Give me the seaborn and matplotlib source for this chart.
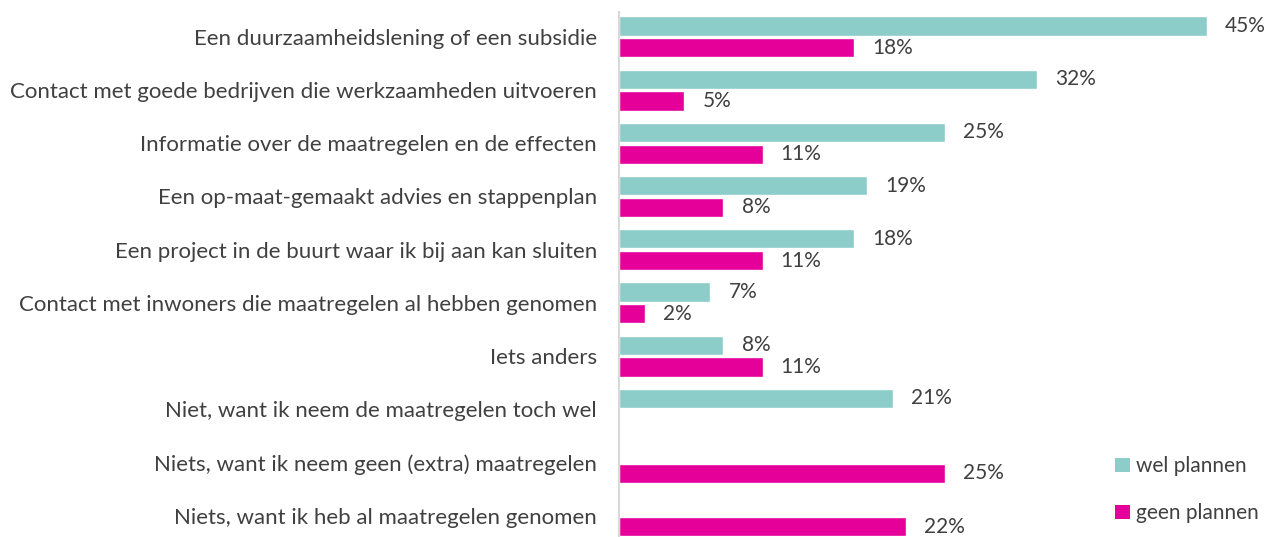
import matplotlib
matplotlib.use('Agg')
import matplotlib.pyplot as plt
from matplotlib.patches import Patch
import numpy as np
import pandas as pd
import seaborn as sns

# Data
categories = [
    'Een duurzaamheidslening of een subsidie',
    'Contact met goede bedrijven die werkzaamheden uitvoeren',
    'Informatie over de maatregelen en de effecten',
    'Een op-maat-gemaakt advies en stappenplan',
    'Een project in de buurt waar ik bij aan kan sluiten',
    'Contact met inwoners die maatregelen al hebben genomen',
    'Iets anders',
    'Niet, want ik neem de maatregelen toch wel',
    'Niets, want ik neem geen (extra) maatregelen',
    'Niets, want ik heb al maatregelen genomen',
]
wel_plannen = [45, 32, 25, 19, 18, 7, 8, 21, np.nan, np.nan]
geen_plannen = [18, 5, 11, 8, 11, 2, 11, np.nan, 25, 22]
series_names = ['wel plannen', 'geen plannen']
colors = ['#8CCDCA', '#E6009A']
TEXT = '#404040'

df = pd.DataFrame({
    'categorie': categories * 2,
    'groep': [series_names[0]] * len(categories) + [series_names[1]] * len(categories),
    'pct': wel_plannen + geen_plannen,
}).dropna()

sns.set_style('white')
plt.rcParams['font.family'] = ['Lato', 'DejaVu Sans']

fig = plt.figure(figsize=(12.8, 5.37), dpi=100)
ax = fig.add_axes([0.4836, 0.0, 0.51, 0.978])

sns.barplot(data=df, y='categorie', x='pct', hue='groep', order=categories,
            hue_order=series_names, palette=colors, saturation=1, orient='h',
            width=0.82, gap=0.12, legend=False, ax=ax)

# value labels next to each bar
for cont in ax.containers:
    ax.bar_label(cont, fmt='%.0f%%', padding=13, fontsize=15, color=TEXT)

ax.set_xlim(0, 50)
ax.set_ylim(9.4, -0.47)
ax.set_xlabel('')
ax.set_ylabel('')
ax.set_xticks([])
ax.tick_params(axis='y', length=0, pad=16, labelsize=16, labelcolor=TEXT)

for side in ['top', 'right', 'bottom']:
    ax.spines[side].set_visible(False)
ax.spines['left'].set_color('#D9D9D9')
ax.spines['left'].set_linewidth(1.5)

handles = [Patch(facecolor=c, edgecolor='none') for c in colors]
fig.legend(handles, series_names, loc='upper left', bbox_to_anchor=(0.863, 0.17),
           frameon=False, fontsize=15, labelcolor=TEXT, handlelength=0.7,
           handleheight=0.7, handletextpad=0.3, labelspacing=1.3, borderpad=0)

fig.savefig('out.png', dpi=100)
